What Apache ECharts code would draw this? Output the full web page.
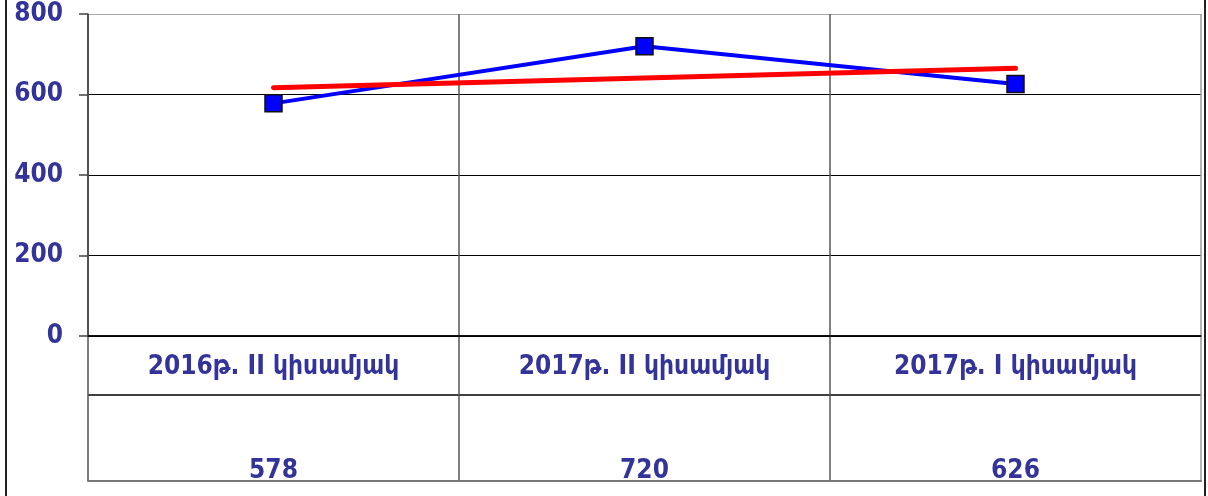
<!DOCTYPE html>
<html><head><meta charset="utf-8">
<script src="https://cdn.jsdelivr.net/npm/echarts@6/dist/echarts.min.js"></script>
<style>html,body{margin:0;padding:0;background:#fff}#c{width:1208px;height:496px}</style>
</head><body><div id="c"></div>
<script>
const categories = ['2016թ. II կիսամյակ', '2017թ. II կիսամյակ', '2017թ. I կիսամյակ'];
const values = [578, 720, 626];
const trendValues = [617, 641, 665];
const yTicks = [0, 200, 400, 600, 800];

const txt = '#333399';
const font = '"DejaVu Sans Condensed", "DejaVu Sans", sans-serif';
const chart = echarts.init(document.getElementById('c'));
chart.setOption({
  animation: false,
  backgroundColor: '#fff',
  graphic: [{type: 'rect', shape: {x: 6, y: -10, width: 1199, height: 520}, style: {fill: 'none', stroke: '#222', lineWidth: 2}, z: 100}],
  grid: [
    {left: 88, right: 7, top: 14, bottom: 160},
    {left: 88, right: 7, top: 336, bottom: 15}
  ],
  xAxis: [
    {type: 'category', gridIndex: 0, data: categories, boundaryGap: true,
     axisLine: {show: true, lineStyle: {color: '#000', width: 1.5}},
     axisTick: {show: false},
     axisLabel: {color: txt, fontFamily: font, fontWeight: 'bold', fontSize: 26, margin: 18},
     splitLine: {show: true, lineStyle: {color: ['#555', '#555', '#555', '#999'], width: 1.5}}},
    {type: 'category', gridIndex: 1, data: values.map(String), boundaryGap: true,
     axisLine: {show: true, lineStyle: {color: '#777', width: 2}},
     axisTick: {show: false},
     axisLabel: {inside: true, color: txt, fontFamily: font, fontWeight: 'bold', fontSize: 26, margin: -3},
     splitLine: {show: true, lineStyle: {color: ['#555', '#555', '#555', '#999'], width: 1.5}}}
  ],
  yAxis: [
    {type: 'value', gridIndex: 0, min: yTicks[0], max: yTicks[yTicks.length - 1], interval: 200,
     axisLine: {show: true, lineStyle: {color: '#444', width: 1.5}},
     axisTick: {show: true, inside: false, length: 9, lineStyle: {color: '#444', width: 1.5}},
     axisLabel: {color: txt, fontFamily: font, fontWeight: 'bold', fontSize: 26, margin: 25},
     splitLine: {show: true, lineStyle: {color: ['#000', '#000', '#000', '#000', '#aaa'], width: 1.2}}},
    {type: 'value', gridIndex: 1, min: 0, max: 145, interval: 86,
     axisLine: {show: false}, axisTick: {show: false}, axisLabel: {show: false},
     splitLine: {show: true, lineStyle: {color: ['#777', '#000', '#000'], width: 1.5}}}
  ],
  series: [
    {type: 'line', data: values, xAxisIndex: 0, yAxisIndex: 0,
     lineStyle: {color: '#0000FF', width: 4},
     symbol: 'rect', symbolSize: 17,
     itemStyle: {color: '#0000FF', borderColor: '#111', borderWidth: 1.5}, z: 3},
    {type: 'line', data: trendValues, xAxisIndex: 0, yAxisIndex: 0,
     lineStyle: {color: '#FF0000', width: 5, cap: 'round'}, showSymbol: false, symbol: 'none', z: 4}
  ]
});
</script></body></html>
